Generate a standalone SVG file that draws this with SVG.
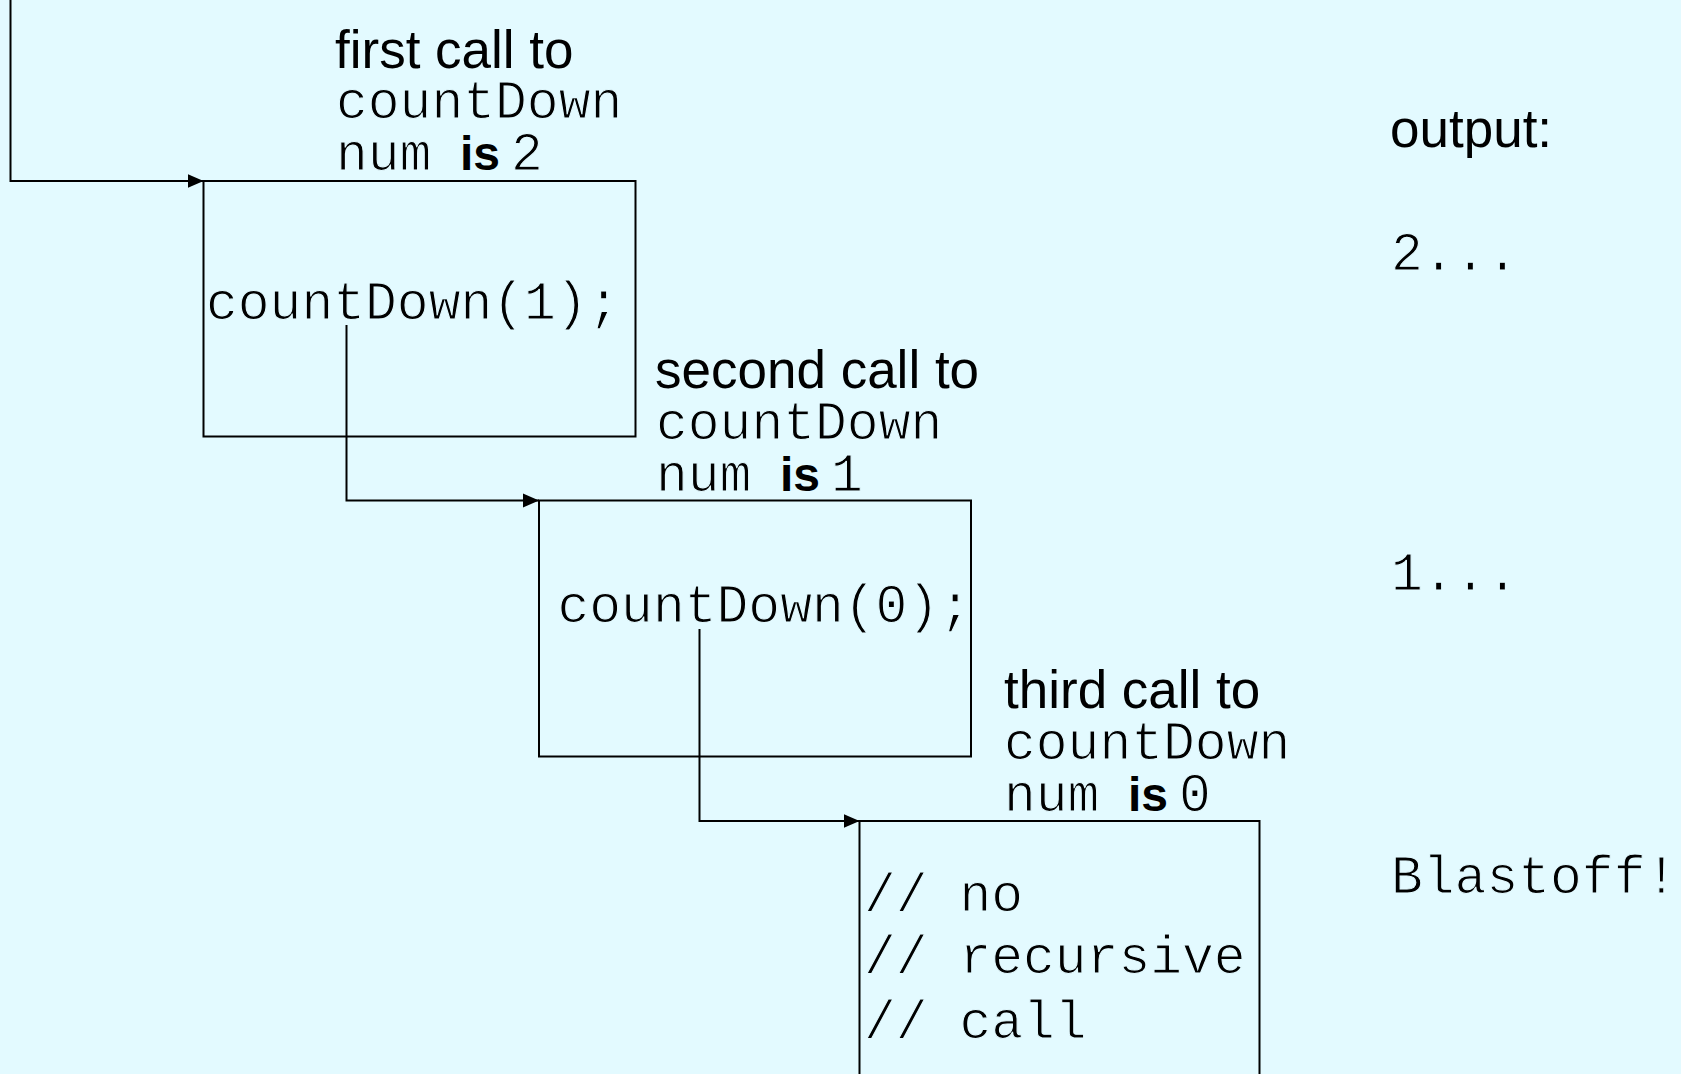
<svg xmlns="http://www.w3.org/2000/svg" width="1681" height="1074" viewBox="0 0 1681 1074">
  <defs>
    <marker id="arrow" markerWidth="17" markerHeight="15" refX="16" refY="7.5" orient="auto" markerUnits="userSpaceOnUse">
      <path d="M0,0.5 L16,7.5 L0,14.5 Z" fill="#000"/>
    </marker>
    <style>
      .frame { fill: none; stroke: #000; stroke-width: 2; }
      .link { fill: none; stroke: #000; stroke-width: 2; marker-end: url(#arrow); }
      .sans { font-family: "Liberation Sans", Arial, sans-serif; font-size: 53px; fill: #000; }
      .bold { font-family: "Liberation Sans", Arial, sans-serif; font-size: 48px; font-weight: bold; fill: #000; }
      /* thin the monospace strokes a little with a background-coloured outline */
      .mono { font-family: "Liberation Mono", "Courier New", monospace; font-size: 53px; fill: #000;
              stroke: #e3faff; stroke-width: 1.1px; }
    </style>
  </defs>

  <rect x="0" y="0" width="1681" height="1074" fill="#e3faff"/>

  <!-- call connectors -->
  <g id="connectors">
    <path class="link" d="M10.5,0 V181 H203.5"/>
    <path class="link" d="M346.5,325 V500.5 H539"/>
    <path class="link" d="M699.5,629 V821 H859.5"/>
  </g>

  <!-- first activation of countDown -->
  <g id="call1">
    <text class="sans" x="335" y="68">first call to</text>
    <text class="mono" x="336" y="118">countDown</text>
    <text y="170"><tspan class="mono" x="336">num</tspan><tspan class="bold" x="460">is</tspan><tspan class="mono" x="511">2</tspan></text>
    <rect class="frame" x="203.5" y="181" width="432" height="255.5"/>
    <text class="mono" x="206" y="319">countDown(1);</text>
  </g>

  <!-- second activation of countDown -->
  <g id="call2">
    <text class="sans" x="655" y="388">second call to</text>
    <text class="mono" x="656" y="439">countDown</text>
    <text y="490.5"><tspan class="mono" x="656">num</tspan><tspan class="bold" x="780">is</tspan><tspan class="mono" x="831">1</tspan></text>
    <rect class="frame" x="539" y="500.5" width="432" height="256"/>
    <text class="mono" x="557.5" y="621.5">countDown(0);</text>
  </g>

  <!-- third activation of countDown (base case) -->
  <g id="call3">
    <text class="sans" x="1004" y="708">third call to</text>
    <text class="mono" x="1004" y="759">countDown</text>
    <text y="810.5"><tspan class="mono" x="1004">num</tspan><tspan class="bold" x="1128">is</tspan><tspan class="mono" x="1179">0</tspan></text>
    <rect class="frame" x="859.5" y="821" width="400" height="300"/>
    <text class="mono" x="864" y="911">// no</text>
    <text class="mono" x="864" y="973">// recursive</text>
    <text class="mono" x="864" y="1037.5">// call</text>
  </g>

  <!-- program output -->
  <g id="output">
    <text class="sans" x="1390" y="146.5">output:</text>
    <text class="mono" x="1391" y="270">2...</text>
    <text class="mono" x="1391" y="590">1...</text>
    <text class="mono" x="1391" y="893">Blastoff!</text>
  </g>
</svg>
